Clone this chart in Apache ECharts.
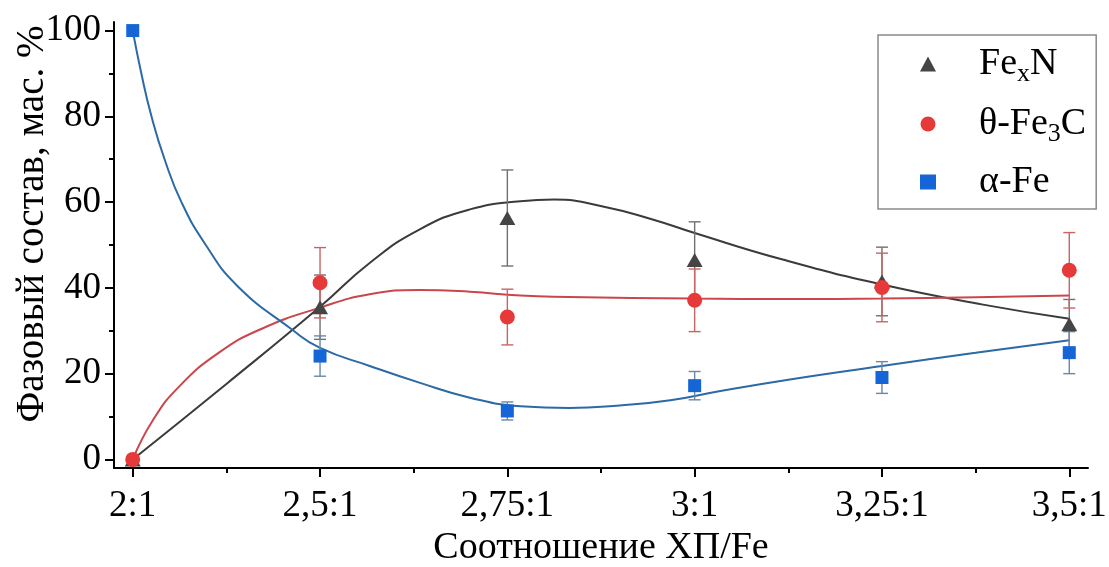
<!DOCTYPE html>
<html>
<head>
<meta charset="utf-8">
<style>
  html, body { margin: 0; padding: 0; background: #fff; }
  #chart { width: 1109px; height: 567px; }
</style>
<script src="https://cdn.jsdelivr.net/npm/echarts@6/dist/echarts.min.js"></script>
</head>
<body>
<div id="chart"></div>
<script>
// Ratio categories along the x axis (placed at positions 0..5)
const categories = ['2:1', '2,5:1', '2,75:1', '3:1', '3,25:1', '3,5:1'];
const yTicks = [0, 20, 40, 60, 80, 100];
const yMinorTicks = [10, 30, 50, 70, 90];
const xMinorTicks = [0.5, 1.5, 2.5, 3.5, 4.5];

// Measured phase content, wt. %, with errors
const fexN = [0, 35.5, 56.3, 46.5, 41.5, 31.5];
const fexNErr = [0, 7.5, 11.2, 8.9, 8.0, 5.8];
const fe3c = [0, 41.2, 33.2, 37.1, 40.1, 44.1];
const fe3cErr = [0, 8.2, 6.5, 7.3, 8.0, 8.8];
const alphaFe = [100, 24.1, 11.3, 17.2, 19.1, 24.9];
const alphaFeErr = [0, 4.7, 2.1, 3.3, 3.7, 4.9];

// Fitted trend curves: [position, value]
const fexNFit = [[0, 0], [0.5, 17.6], [1, 35.6], [1.265, 45.8], [1.53, 53.6], [1.8, 58.3], [2.07, 60.2],
  [2.25, 60.6], [2.51, 59.0], [2.78, 55.9], [3.0, 52.8], [3.47, 46.6], [4.0, 40.8], [4.54, 36.1], [5.0, 32.8]];
const fe3cFit = [[0, 0], [0.11, 9.3], [0.25, 17.1], [0.46, 24.9], [0.68, 30.3], [1.0, 35.4], [1.265, 38.5],
  [1.53, 39.5], [1.8, 39.1], [2.07, 38.2], [2.33, 37.9], [3.0, 37.5], [3.5, 37.4], [4.0, 37.5], [4.5, 37.8], [5.0, 38.2]];
const alphaFeFit = [[0, 100], [0.046, 90], [0.10, 80], [0.17, 70], [0.26, 60], [0.39, 50], [0.56, 40.4],
  [0.85, 30.3], [1.0, 26.0], [1.265, 21.8], [1.53, 17.9], [1.8, 14.4], [2.07, 12.4], [2.33, 12.0], [2.6, 12.6],
  [2.87, 13.8], [3.13, 15.9], [3.5, 18.6], [4.0, 21.8], [4.5, 24.9], [5.0, 27.8]];

const FONT = "'Liberation Serif', 'Times New Roman', serif";

function points(values) {
  return values.map((v, i) => [i, v]);
}
function errorRanges(values, errs) {
  const out = [];
  values.forEach((v, i) => { if (errs[i] > 0) out.push([i, v - errs[i], v + errs[i]]); });
  return out;
}
function errorSeries(values, errs, color) {
  return {
    type: 'custom',
    xAxisIndex: 0, yAxisIndex: 0,
    z: 3,
    silent: true,
    data: errorRanges(values, errs),
    renderItem: function (params, api) {
      const x = api.value(0);
      const lo = api.coord([x, api.value(1)]);
      const hi = api.coord([x, api.value(2)]);
      const cap = 6;
      const style = { stroke: color, lineWidth: 1.4 };
      return {
        type: 'group',
        children: [
          { type: 'line', shape: { x1: lo[0], y1: lo[1], x2: hi[0], y2: hi[1] }, style: style },
          { type: 'line', shape: { x1: lo[0] - cap, y1: lo[1], x2: lo[0] + cap, y2: lo[1] }, style: style },
          { type: 'line', shape: { x1: hi[0] - cap, y1: hi[1], x2: hi[0] + cap, y2: hi[1] }, style: style }
        ]
      };
    }
  };
}
function fitSeries(data, color) {
  return {
    type: 'line', data: data, smooth: 0.5, showSymbol: false, silent: true, z: 2,
    xAxisIndex: 0, yAxisIndex: 0,
    lineStyle: { color: color, width: 2 }
  };
}
function markSeries(name, values, symbol, size, color) {
  return {
    name: name, type: 'scatter', data: points(values), symbol: symbol, symbolSize: size, z: 4,
    xAxisIndex: 0, yAxisIndex: 0,
    itemStyle: { color: color, opacity: 1 }
  };
}

// Legend labels with subscripts
const legendText = {
  'FexN': '{g|}{n|Fe}{s|x}{n|N}',
  'θ-Fe3C': '{g|}{n|θ-Fe}{s|3}{n|C}',
  'α-Fe': '{g|}{n|α-Fe}'
};

const axisLineStyle = { color: '#000', width: 2 };

const option = {
  backgroundColor: '#fff',
  animation: false,
  grid: { left: 114, right: 21, top: 22, bottom: 99, containLabel: false, outerBoundsMode: 'none' },
  legend: {
    orient: 'vertical',
    left: 878, top: 35,
    padding: [8, 10, 8, 42],
    itemWidth: 16, itemHeight: 15, itemGap: 16,
    borderColor: '#8a8a8a', borderWidth: 1.5,
    selectedMode: false,
    data: [
      { name: 'FexN', icon: 'triangle' },
      { name: 'θ-Fe3C', icon: 'circle' },
      { name: 'α-Fe', icon: 'rect' }
    ],
    formatter: name => legendText[name],
    textStyle: {
      fontFamily: FONT, fontSize: 38, color: '#000',
      rich: {
        g: { width: 38 },
        n: { fontFamily: FONT, fontSize: 38, lineHeight: 46, color: '#000' },
        s: { fontFamily: FONT, fontSize: 26, lineHeight: 30, verticalAlign: 'bottom', color: '#000', padding: [18, 0, 0, 0] }
      }
    }
  },
  xAxis: [
    {
      type: 'value', min: -0.1, max: 5.1,
      name: 'Соотношение ХП/Fe', nameLocation: 'middle', nameGap: 61, nameMoveOverlap: false,
      nameTextStyle: { fontFamily: FONT, fontSize: 38, color: '#000' },
      axisLine: { onZero: false, lineStyle: axisLineStyle },
      axisTick: { customValues: [0, 1, 2, 3, 4, 5], length: 9, lineStyle: axisLineStyle },
      axisLabel: {
        customValues: [0, 1, 2, 3, 4, 5], margin: 20,
        formatter: v => categories[Math.round(v)],
        fontFamily: FONT, fontSize: 37, color: '#000'
      },
      splitLine: { show: false }
    },
    {
      type: 'value', min: -0.1, max: 5.1, position: 'bottom',
      axisLine: { show: false, onZero: false },
      axisTick: { customValues: xMinorTicks, length: 5, lineStyle: axisLineStyle },
      axisLabel: { show: false },
      splitLine: { show: false }
    }
  ],
  yAxis: [
    {
      type: 'value', min: -2, max: 102,
      name: 'Фазовый состав, мас. %', nameLocation: 'middle', nameGap: 62, nameMoveOverlap: false,
      nameTextStyle: { fontFamily: FONT, fontSize: 39, color: '#000', padding: [0, 0, 0, 42] },
      axisLine: { show: true, onZero: false, lineStyle: axisLineStyle },
      axisTick: { show: true, customValues: yTicks, length: 9, lineStyle: axisLineStyle },
      axisLabel: {
        customValues: yTicks, margin: 13,
        fontFamily: FONT, fontSize: 37, color: '#000'
      },
      splitLine: { show: false }
    },
    {
      type: 'value', min: -2, max: 102, position: 'left',
      axisLine: { show: false, onZero: false },
      axisTick: { show: true, customValues: yMinorTicks, length: 5, lineStyle: axisLineStyle },
      axisLabel: { show: false },
      splitLine: { show: false }
    }
  ],
  series: [
    fitSeries(fexNFit, '#3b3b3b'),
    fitSeries(fe3cFit, '#c9474c'),
    fitSeries(alphaFeFit, '#2b6aa5'),
    errorSeries(fexN, fexNErr, '#707070'),
    errorSeries(fe3c, fe3cErr, '#c86464'),
    errorSeries(alphaFe, alphaFeErr, '#6a88a6'),
    markSeries('FexN', fexN, 'triangle', [16, 14], '#454545'),
    markSeries('θ-Fe3C', fe3c, 'circle', 15, '#e63a3a'),
    markSeries('α-Fe', alphaFe, 'rect', 13, '#1565d6')
  ]
};

const chart = echarts.init(document.getElementById('chart'), null, { renderer: 'canvas' });
chart.setOption(option);
</script>
</body>
</html>
